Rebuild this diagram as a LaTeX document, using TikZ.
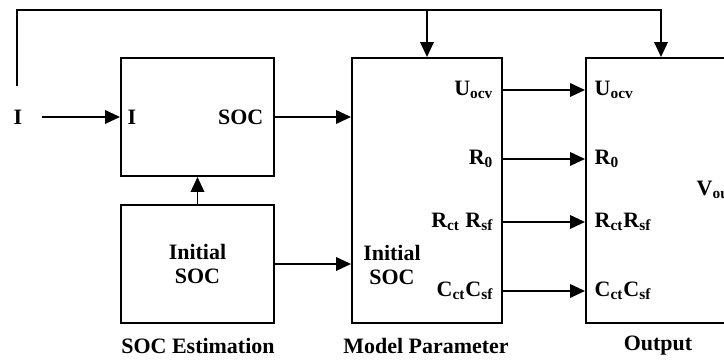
\documentclass[tikz,border=0pt]{standalone}
\usepackage{fontspec}
\setmainfont{Liberation Serif}
\usetikzlibrary{arrows.meta,positioning}

\begin{document}
\begin{tikzpicture}[>={Triangle[length=0.3cm,width=0.27cm]}, line width=1.1pt,
  font=\fontsize{12.5}{14}\selectfont\bfseries,
  blockbox/.style={draw, inner sep=0pt},
  portlabel/.style={inner sep=1pt},]
\clip (0,0) rectangle (14.48,7.2);
\node[blockbox, minimum width=3.06cm, minimum height=2.36cm] (soc) at (3.95,4.86) {};
\node[blockbox, minimum width=3.06cm, minimum height=2.36cm, align=center] (init) at (3.95,1.92) {Initial\\SOC};
\node[blockbox, minimum width=3cm, minimum height=5.3cm] (model) at (8.54,3.39) {};
\node[blockbox, minimum width=3cm, minimum height=5.3cm] (out) at (13.22,3.39) {};
% labels inside the blocks
\node (iin) at (0.36,4.86) [minimum width=0.92cm] {I};
\node[portlabel, anchor=west] (socin) at (2.5,4.86) {I};
\node[portlabel, anchor=east] (socout) at (5.32,4.86) {SOC};
\node[align=center] (modinit) at (7.84,1.9) {Initial\\SOC};
\node[portlabel, anchor=east] (uocvA) at (9.92,5.4) {U\textsubscript{ocv}};
\node[portlabel, anchor=east] (rzA) at (9.92,4.02) {R\textsubscript{0}};
\node[portlabel, anchor=east] (rctA) at (9.92,2.76) {R\textsubscript{ct} R\textsubscript{sf}};
\node[portlabel, anchor=east] (cctA) at (9.92,1.38) {C\textsubscript{ct}C\textsubscript{sf}};
\node[portlabel, anchor=west] (uocvB) at (11.84,5.4) {U\textsubscript{ocv}};
\node[portlabel, anchor=west] (rzB) at (11.84,4.02) {R\textsubscript{0}};
\node[portlabel, anchor=west] (rctB) at (11.84,2.76) {R\textsubscript{ct}R\textsubscript{sf}};
\node[portlabel, anchor=west] (cctB) at (11.84,1.38) {C\textsubscript{ct}C\textsubscript{sf}};
\node[portlabel, anchor=west] (vout) at (13.88,3.4) {V\textsubscript{out}};
% captions
\node (capsoc) at (3.96,0.28) {SOC Estimation};
\node (capmod) at (8.52,0.28) {Model Parameter};
\node (capout) at (13.16,0.28) {Output};
% connectors
\coordinate (fbstart) at (0.34,5.48);
\coordinate (fbtop) at (0.34,7.0);
\draw[->] (iin) -- (soc);
\draw[->] (soc) -- (model.west |- soc);
\draw[->] (init) -- (model.west |- init);
\draw[->] (init) -- (soc);
\foreach \a/\b in {uocvA/uocvB, rzA/rzB, rctA/rctB, cctA/cctB}
  \draw[->] (model.east |- \a) -- (out.west |- \b);
\draw[->] (fbstart) |- (model.north |- fbtop) -- (model.north);
\draw[->] (model.north |- fbtop) -- (out.north |- fbtop) -- (out.north);
\end{tikzpicture}
\end{document}
